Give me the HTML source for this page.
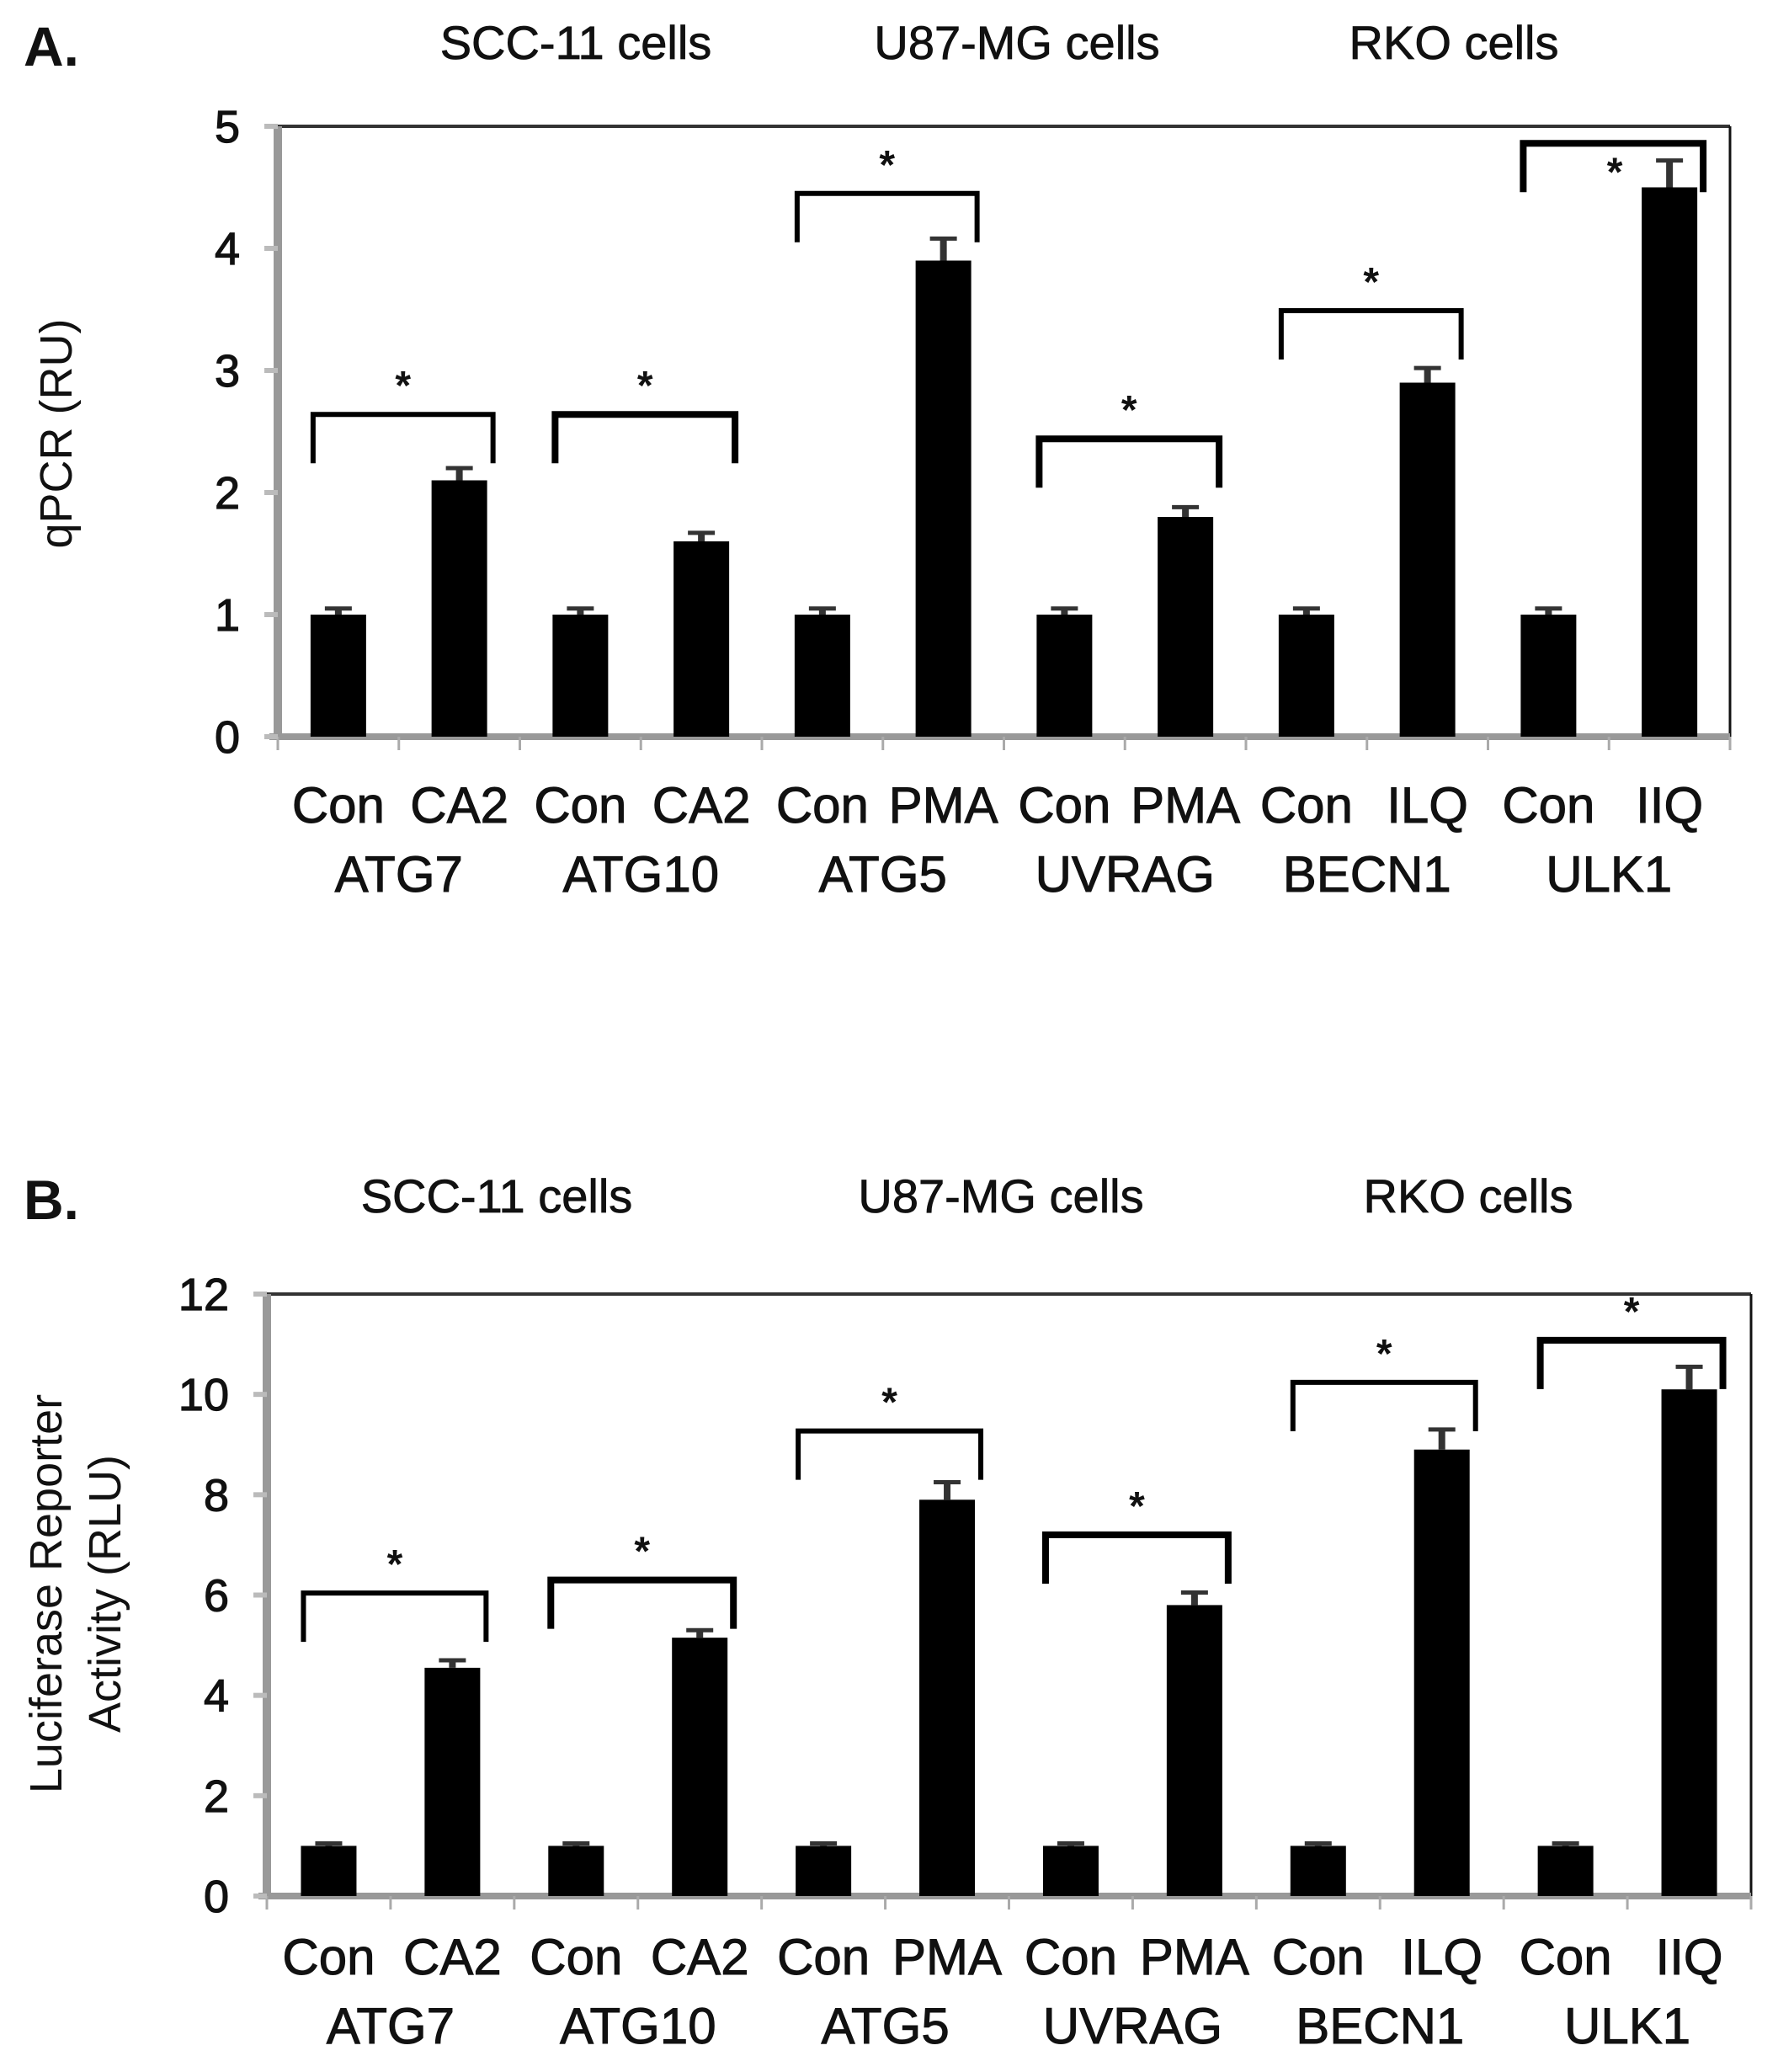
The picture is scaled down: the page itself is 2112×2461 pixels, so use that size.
<!DOCTYPE html>
<html><head><meta charset="utf-8"><style>
body{margin:0;background:#fff}
svg{display:block}
text{font-family:"Liberation Sans",Arial,sans-serif;fill:#111}
</style></head><body>
<svg id="fig" width="2112" height="2461" viewBox="0 0 2112 2461" xmlns="http://www.w3.org/2000/svg"></svg>
<script>
const categories = ["Con","CA2","Con","CA2","Con","PMA","Con","PMA","Con","ILQ","Con","IIQ"];
const genes = ["ATG7","ATG10","ATG5","UVRAG","BECN1","ULK1"];
const cellLines = ["SCC-11 cells","U87-MG cells","RKO cells"];
const valuesA = [1,2.1,1,1.6,1,3.9,1,1.8,1,2.9,1,4.5];
const errorsA = [0.05,0.1,0.05,0.07,0.05,0.18,0.05,0.08,0.05,0.12,0.05,0.22];
const bracketA = [2.64,2.64,4.45,2.44,3.49,4.86];
const ticksA = [0,1,2,3,4,5];
const valuesB = [1,4.55,1,5.15,1,7.9,1,5.8,1,8.9,1,10.1];
const errorsB = [0.05,0.15,0.05,0.15,0.05,0.35,0.05,0.25,0.05,0.4,0.05,0.45];
const bracketB = [6.04,6.3,9.27,7.2,10.24,11.08];
const ticksB = [0,2,4,6,8,10,12];

const NS="http://www.w3.org/2000/svg";
const svg=document.getElementById('fig');
function mk(tag,attrs,parent){const e=document.createElementNS(NS,tag);for(const k in attrs)e.setAttribute(k,attrs[k]);(parent||svg).appendChild(e);return e;}

function drawChart(cfg){
  const g=mk('g',{});
  
  
  const ymax=cfg.ticks[cfg.ticks.length-1];
  const y=v=>cfg.zero-(v/ymax)*(cfg.zero-cfg.top);
  const w=(cfg.right-cfg.left)/cfg.vals.length;
  const xc=i=>cfg.left+w*(i+0.5);
  const pl=mk('text',{x:28,y:cfg.letterY,'font-size':66,'font-weight':'bold'},g);pl.textContent=cfg.letter;
  
  
  cellLines.forEach((c,i)=>{const t=mk('text',{x:cfg.cellX[i],y:cfg.letterY-8,'font-size':56,'text-anchor':'middle','stroke':'#111','stroke-width':0.8},g);t.textContent=c;
    
    });
  mk('line',{x1:cfg.left,y1:cfg.top,x2:cfg.right,y2:cfg.top,stroke:'#333','stroke-width':4},g);
  mk('line',{x1:cfg.right,y1:cfg.top,x2:cfg.right,y2:cfg.zero,stroke:'#111','stroke-width':3},g);
  const ya=mk('line',{x1:cfg.left,y1:cfg.top,x2:cfg.left,y2:cfg.zero+4,stroke:'#999','stroke-width':10},g);
  
  
  const xa=mk('line',{x1:cfg.left-10,y1:cfg.zero,x2:cfg.right,y2:cfg.zero,stroke:'#999','stroke-width':8},g);
  
  
  for(let i=0;i<=cfg.vals.length;i++) mk('line',{x1:cfg.left+w*i,y1:cfg.zero,x2:cfg.left+w*i,y2:cfg.zero+16,stroke:'#aaa','stroke-width':3},g);
  cfg.ticks.forEach(t=>{
    mk('line',{x1:cfg.left-16,y1:y(t),x2:cfg.left,y2:y(t),stroke:'#bbb','stroke-width':6},g);
    const tl=mk('text',{x:cfg.left-45,y:y(t)+19,'font-size':54,'text-anchor':'end','stroke':'#111','stroke-width':1.2},g);tl.textContent=t;
    
    
  });
  const yt=mk('text',{transform:`translate(${cfg.ytX},${cfg.ytY}) rotate(-90)`,'font-size':54,'text-anchor':'middle'},g);
  
  
  cfg.ytitle.forEach((s,k)=>{const ts=mk('tspan',{x:0,dy:k==0?0:70},yt);ts.textContent=s;});
  cfg.vals.forEach((v,i)=>{
    const bw=66;
    const b=mk('rect',{x:xc(i)-bw/2,y:y(v),width:bw,height:cfg.zero-y(v),fill:'#000'},g);
    
    
    const e=cfg.errs[i];
    mk('line',{x1:xc(i),y1:y(v),x2:xc(i),y2:y(v+e),stroke:'#333','stroke-width':8},g);
    mk('line',{x1:xc(i)-16,y1:y(v+e),x2:xc(i)+16,y2:y(v+e),stroke:'#333','stroke-width':5},g);
    const cl=mk('text',{x:xc(i),y:cfg.catY,'font-size':60,'text-anchor':'middle','stroke':'#111','stroke-width':1},g);cl.textContent=categories[i];
    
    
  });
  genes.forEach((gn,k)=>{
    const t=mk('text',{x:(xc(2*k)+xc(2*k+1))/2,y:cfg.catY+82,'font-size':60,'text-anchor':'middle','stroke':'#111','stroke-width':1},g);t.textContent=gn;
    
    
    const by=y(cfg.brk[k]);
    const x1=xc(2*k)-30, x2=xc(2*k+1)+40;
    const p=mk('path',{d:`M${x1} ${by+58} V${by} H${x2} V${by+58}`,fill:'none',stroke:'#000','stroke-width':k%2?8:6},g);
    
    
    const s=mk('text',{x:k==5&&cfg.letter=='A.'?x2-105:(x1+x2)/2,y:k==5&&cfg.letter=='A.'?by+50:by-18,'font-size':48,'text-anchor':'middle','font-weight':'bold'},g);s.textContent='*';
    
    
  });
}
drawChart({name:'chart-a',letter:'A.',letterY:78,cellX:[684,1208,1727],left:330,right:2055,top:150,zero:875,ticks:ticksA,vals:valuesA,errs:errorsA,brk:bracketA,ytitle:['qPCR (RU)'],ytX:85,ytY:515,catY:977});
drawChart({name:'chart-b',letter:'B.',letterY:1448,cellX:[590,1189,1744],left:317,right:2080,top:1537,zero:2252,ticks:ticksB,vals:valuesB,errs:errorsB,brk:bracketB,ytitle:['Luciferase Reporter','Activity (RLU)'],ytX:73,ytY:1893,catY:2345});
</script>
</body></html>
